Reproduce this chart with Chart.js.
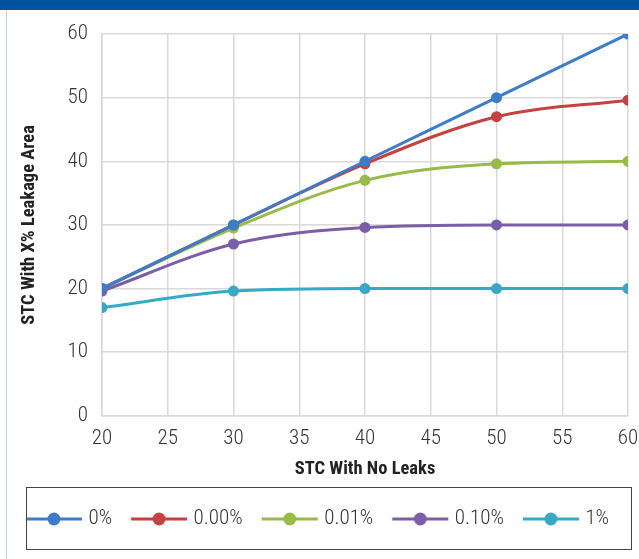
<!DOCTYPE html>
<html>
<head>
<meta charset="utf-8">
<script src="https://cdn.jsdelivr.net/npm/chart.js@4.4.0/dist/chart.umd.min.js"></script>
<style>
    html, body { margin: 0; padding: 0; background: #fff; }
    #wrap { position: relative; width: 639px; height: 559px; overflow: hidden; }
    #topbar { position: absolute; left: 0; top: 0; width: 639px; height: 10px; background: #00539f; z-index: 2; }
    #edge { position: absolute; left: 6px; top: 10px; width: 1px; height: 549px; background: #c5d3ea; z-index: 2; }
    #chart { position: absolute; left: 0; top: 0; }
</style>
</head>
<body>
<div id="wrap">
    <div id="topbar"></div>
    <div id="edge"></div>
    <canvas id="chart" width="639" height="559"></canvas>
</div>
<script>
// Chart data
const stcNoLeaks = [20, 30, 40, 50, 60];
const seriesNames = ['0%', '0.00%', '0.01%', '0.10%', '1%'];
const leak0 = [20, 30, 40, 50, 60];
const leak000 = [20, 30, 39.6, 47, 49.6];
const leak001 = [20, 29.5, 37, 39.6, 40];
const leak010 = [19.6, 27, 29.6, 30, 30];
const leak1 = [17, 19.6, 20, 20, 20];
const seriesColors = ['#3d7cc9', '#c4423f', '#97bb46', '#7b5ea7', '#36a9c6'];

const xTicks = [20, 25, 30, 35, 40, 45, 50, 55, 60];
const yTicks = [0, 10, 20, 30, 40, 50, 60];

const FONT = "'Roboto Condensed', 'Roboto', sans-serif";

// small line+dot images used as legend markers
function legendMarker(color) {
    const c = document.createElement('canvas');
    c.width = 60;
    c.height = 16;
    const g = c.getContext('2d');
    g.strokeStyle = color;
    g.lineWidth = 3;
    g.beginPath();
    g.moveTo(2, 8);
    g.lineTo(58, 8);
    g.stroke();
    g.fillStyle = color;
    g.beginPath();
    g.arc(30, 8, 6.5, 0, Math.PI * 2);
    g.fill();
    return c;
}

const allValues = [leak0, leak000, leak001, leak010, leak1];
const datasets = allValues.map((vals, i) => ({
    label: seriesNames[i],
    data: vals.map((v, j) => ({ x: stcNoLeaks[j], y: v })),
    borderColor: seriesColors[i],
    backgroundColor: seriesColors[i],
    borderWidth: 3,
    pointRadius: 4,
    pointHoverRadius: 4,
    cubicInterpolationMode: 'monotone',
    markerImg: legendMarker(seriesColors[i])
}));

// draws the frame round the legend, down to the bottom margin
const legendFrame = {
    id: 'legendFrame',
    afterDraw(chart) {
        const lg = chart.legend;
        const ctx = chart.ctx;
        const top = Math.round(lg.top + 1.5);
        ctx.save();
        ctx.strokeStyle = '#444';
        ctx.lineWidth = 1;
        ctx.strokeRect(26.5, top + 0.5, 605, 549 - top);
        ctx.restore();
    }
};

new Chart(document.getElementById('chart'), {
    type: 'line',
    data: { datasets: datasets },
    plugins: [legendFrame],
    options: {
        responsive: false,
        animation: false,
        layout: { padding: { top: 34, right: 0, bottom: 19.5, left: 0 } },
        plugins: {
            tooltip: { enabled: false },
            legend: {
                position: 'bottom',
                labels: {
                    usePointStyle: true,
                    pointStyleWidth: 48,
                    padding: 23,
                    color: '#333',
                    font: { family: FONT, size: 21, weight: '300' },
                    generateLabels(chart) {
                        return chart.data.datasets.map((ds, i) => ({
                            text: ds.label,
                            pointStyle: ds.markerImg,
                            fillStyle: ds.borderColor,
                            strokeStyle: ds.borderColor,
                            lineWidth: 0,
                            hidden: false,
                            datasetIndex: i,
                            fontColor: '#333'
                        }));
                    }
                }
            }
        },
        scales: {
            x: {
                type: 'linear',
                min: xTicks[0],
                max: xTicks[xTicks.length - 1],
                afterBuildTicks(scale) { scale.ticks = xTicks.map(v => ({ value: v })); },
                afterFit(scale) { scale.paddingRight = 11; },
                grid: { color: '#d9d9d9', lineWidth: 1.5, drawTicks: false },
                border: { color: '#d9d9d9', width: 1.5 },
                ticks: { color: '#333', font: { family: FONT, size: 21, weight: '300', lineHeight: 1 }, padding: 12, maxRotation: 0 },
                title: {
                    display: true,
                    text: 'STC With No Leaks',
                    color: '#222',
                    font: { family: FONT, size: 18.5, weight: 'bold' },
                    padding: { top: -3, bottom: 5.5 }
                }
            },
            y: {
                min: yTicks[0],
                max: yTicks[yTicks.length - 1],
                afterBuildTicks(scale) { scale.ticks = yTicks.map(v => ({ value: v })); },
                afterFit(scale) { scale.width = 102; },
                grid: { color: '#d9d9d9', lineWidth: 1.5, drawTicks: false },
                border: { color: '#d9d9d9', width: 1.5 },
                ticks: { color: '#333', font: { family: FONT, size: 21, weight: '300' }, padding: 14 },
                title: {
                    display: true,
                    text: 'STC With X% Leakage Area',
                    color: '#222',
                    font: { family: FONT, size: 18.5, weight: 'bold' },
                    padding: { top: 18, bottom: 0 }
                }
            }
        }
    }
});
</script>
</body>
</html>
